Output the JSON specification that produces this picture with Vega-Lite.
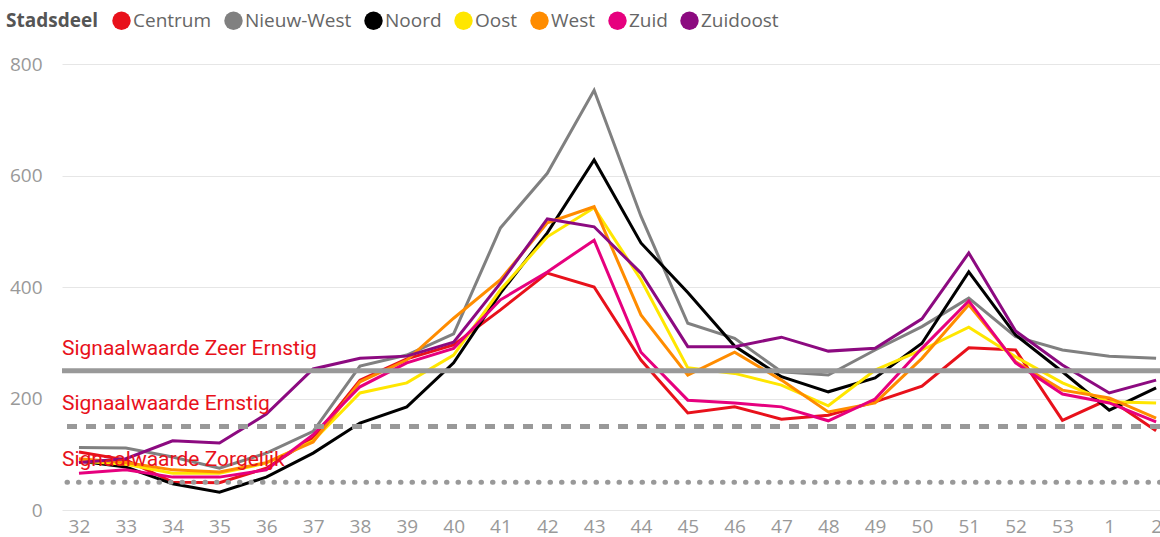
{
  "$schema": "https://vega.github.io/schema/vega-lite/v6.json",
  "width": 1098,
  "height": 446,
  "autosize": {"type": "none"},
  "padding": {"left": 62, "top": 64, "right": 0, "bottom": 27},
  "background": "white",
  "config": {"view": {"stroke": null}, "font": "Open Sans"},
  "datasets": {
    "series": [
      {"week": "32", "Centrum": 104, "Nieuw-West": 112, "Noord": 88, "Oost": 88, "West": 92, "Zuid": 66, "Zuidoost": 85},
      {"week": "33", "Centrum": 90, "Nieuw-West": 111, "Noord": 77, "Oost": 82, "West": 85, "Zuid": 72, "Zuidoost": 92},
      {"week": "34", "Centrum": 50, "Nieuw-West": 95, "Noord": 47, "Oost": 66, "West": 72, "Zuid": 59, "Zuidoost": 124},
      {"week": "35", "Centrum": 49, "Nieuw-West": 75, "Noord": 32, "Oost": 66, "West": 68, "Zuid": 59, "Zuidoost": 120},
      {"week": "36", "Centrum": 75, "Nieuw-West": 102, "Noord": 59, "Oost": 84, "West": 85, "Zuid": 72, "Zuidoost": 172},
      {"week": "37", "Centrum": 129, "Nieuw-West": 141, "Noord": 102, "Oost": 124, "West": 122, "Zuid": 135, "Zuidoost": 253},
      {"week": "38", "Centrum": 233, "Nieuw-West": 258, "Noord": 156, "Oost": 210, "West": 230, "Zuid": 221, "Zuidoost": 272},
      {"week": "39", "Centrum": 271, "Nieuw-West": 278, "Noord": 185, "Oost": 228, "West": 269, "Zuid": 264, "Zuidoost": 276},
      {"week": "40", "Centrum": 296, "Nieuw-West": 316, "Noord": 264, "Oost": 278, "West": 344, "Zuid": 290, "Zuidoost": 301},
      {"week": "41", "Centrum": 359, "Nieuw-West": 506, "Noord": 389, "Oost": 395, "West": 413, "Zuid": 377, "Zuidoost": 407},
      {"week": "42", "Centrum": 425, "Nieuw-West": 604, "Noord": 497, "Oost": 490, "West": 515, "Zuid": 427, "Zuidoost": 522},
      {"week": "43", "Centrum": 400, "Nieuw-West": 753, "Noord": 628, "Oost": 542, "West": 544, "Zuid": 484, "Zuidoost": 508},
      {"week": "44", "Centrum": 269, "Nieuw-West": 527, "Noord": 479, "Oost": 413, "West": 350, "Zuid": 283, "Zuidoost": 425},
      {"week": "45", "Centrum": 174, "Nieuw-West": 335, "Noord": 390, "Oost": 255, "West": 242, "Zuid": 197, "Zuidoost": 293},
      {"week": "46", "Centrum": 185, "Nieuw-West": 308, "Noord": 294, "Oost": 245, "West": 283, "Zuid": 192, "Zuidoost": 293},
      {"week": "47", "Centrum": 163, "Nieuw-West": 248, "Noord": 239, "Oost": 224, "West": 233, "Zuid": 185, "Zuidoost": 310},
      {"week": "48", "Centrum": 170, "Nieuw-West": 242, "Noord": 212, "Oost": 187, "West": 176, "Zuid": 160, "Zuidoost": 285},
      {"week": "49", "Centrum": 194, "Nieuw-West": 287, "Noord": 237, "Oost": 251, "West": 192, "Zuid": 199, "Zuidoost": 290},
      {"week": "50", "Centrum": 222, "Nieuw-West": 329, "Noord": 299, "Oost": 287, "West": 272, "Zuid": 290, "Zuidoost": 343},
      {"week": "51", "Centrum": 291, "Nieuw-West": 380, "Noord": 427, "Oost": 328, "West": 368, "Zuid": 375, "Zuidoost": 461},
      {"week": "52", "Centrum": 287, "Nieuw-West": 311, "Noord": 314, "Oost": 275, "West": 266, "Zuid": 264, "Zuidoost": 321},
      {"week": "53", "Centrum": 161, "Nieuw-West": 287, "Noord": 248, "Oost": 228, "West": 215, "Zuid": 208, "Zuidoost": 260},
      {"week": "1", "Centrum": 199, "Nieuw-West": 276, "Noord": 179, "Oost": 194, "West": 201, "Zuid": 192, "Zuidoost": 210},
      {"week": "2", "Centrum": 142, "Nieuw-West": 272, "Noord": 219, "Oost": 192, "West": 165, "Zuid": 158, "Zuidoost": 233}
    ],
    "thresholds": [
      {"niveau": "Zeer Ernstig", "value": 250, "label": "Signaalwaarde Zeer Ernstig", "week": "32"},
      {"niveau": "Ernstig", "value": 150, "label": "Signaalwaarde Ernstig", "week": "32"},
      {"niveau": "Zorgelijk", "value": 50, "label": "Signaalwaarde Zorgelijk", "week": "32"}
    ]
  },
  "layer": [
    {
      "data": {"name": "series"},
      "transform": [
        {"fold": ["Centrum", "Nieuw-West", "Noord", "Oost", "West", "Zuid", "Zuidoost"], "as": ["Stadsdeel", "aantal"]}
      ],
      "mark": {"type": "line", "strokeWidth": 3},
      "encoding": {
        "x": {
          "field": "week", "type": "ordinal",
          "sort": ["32","33","34","35","36","37","38","39","40","41","42","43","44","45","46","47","48","49","50","51","52","53","1","2"],
          "scale": {"type": "point", "padding": 0.223, "align": 0.813, "round": false},
          "axis": {"title": null, "orient": "bottom", "domain": false, "ticks": false, "grid": false, "labelAngle": 0, "labelColor": "#999999", "labelFontSize": 19, "labelPadding": 7, "labelFont": "Open Sans"}
        },
        "y": {
          "field": "aantal", "type": "quantitative",
          "scale": {"domain": [0, 800], "nice": false},
          "axis": {"title": null, "domain": false, "ticks": false, "values": [0, 200, 400, 600, 800], "gridColor": "#e6e6e6", "gridWidth": 1, "labelColor": "#999999", "labelFontSize": 19, "labelPadding": 20, "labelFont": "Open Sans"}
        },
        "color": {
          "field": "Stadsdeel", "type": "nominal",
          "scale": {
            "domain": ["Centrum", "Nieuw-West", "Noord", "Oost", "West", "Zuid", "Zuidoost"],
            "range": ["#E8111B", "#808080", "#000000", "#FFE600", "#FF8C00", "#E6007E", "#8C0A80"]
          },
          "legend": {
            "orient": "none", "legendX": -56, "legendY": -53, "direction": "horizontal", "columns": 7,
            "title": "Stadsdeel", "titleOrient": "left", "titleFontSize": 19, "titleFontWeight": "bold", "titleColor": "#555555", "titlePadding": 14, "titleFont": "Open Sans",
            "labelFontSize": 19, "labelColor": "#666666", "labelOffset": 2, "columnPadding": 12, "labelFont": "Open Sans",
            "symbolType": "circle", "symbolSize": 340, "symbolStrokeWidth": 0,
            "encode": {"symbols": {"update": {"fill": {"scale": "color", "field": "value"}, "opacity": {"value": 1}}}}
          }
        }
      }
    },
    {
      "data": {"name": "thresholds"},
      "transform": [{"filter": "datum.niveau === 'Zeer Ernstig'"}],
      "mark": {"type": "rule", "color": "#999999", "strokeWidth": 5},
      "encoding": {"y": {"field": "value", "type": "quantitative"}}
    },
    {
      "data": {"name": "thresholds"},
      "transform": [{"filter": "datum.niveau === 'Ernstig'"}],
      "mark": {"type": "rule", "color": "#999999", "strokeWidth": 5, "strokeDash": [10, 9]},
      "encoding": {"y": {"field": "value", "type": "quantitative"}}
    },
    {
      "data": {"name": "thresholds"},
      "transform": [{"filter": "datum.niveau === 'Zorgelijk'"}],
      "mark": {"type": "rule", "color": "#999999", "strokeWidth": 5, "strokeDash": [0.5, 11], "strokeCap": "round"},
      "encoding": {"y": {"field": "value", "type": "quantitative"}}
    },
    {
      "data": {"name": "thresholds"},
      "mark": {"type": "text", "align": "left", "baseline": "alphabetic", "dx": -17, "dy": -16, "font": "Roboto", "fontSize": 21, "color": "#E8111B"},
      "encoding": {
        "x": {
          "field": "week", "type": "ordinal",
          "sort": ["32","33","34","35","36","37","38","39","40","41","42","43","44","45","46","47","48","49","50","51","52","53","1","2"]
        },
        "y": {"field": "value", "type": "quantitative"},
        "text": {"field": "label"}
      }
    }
  ]
}
